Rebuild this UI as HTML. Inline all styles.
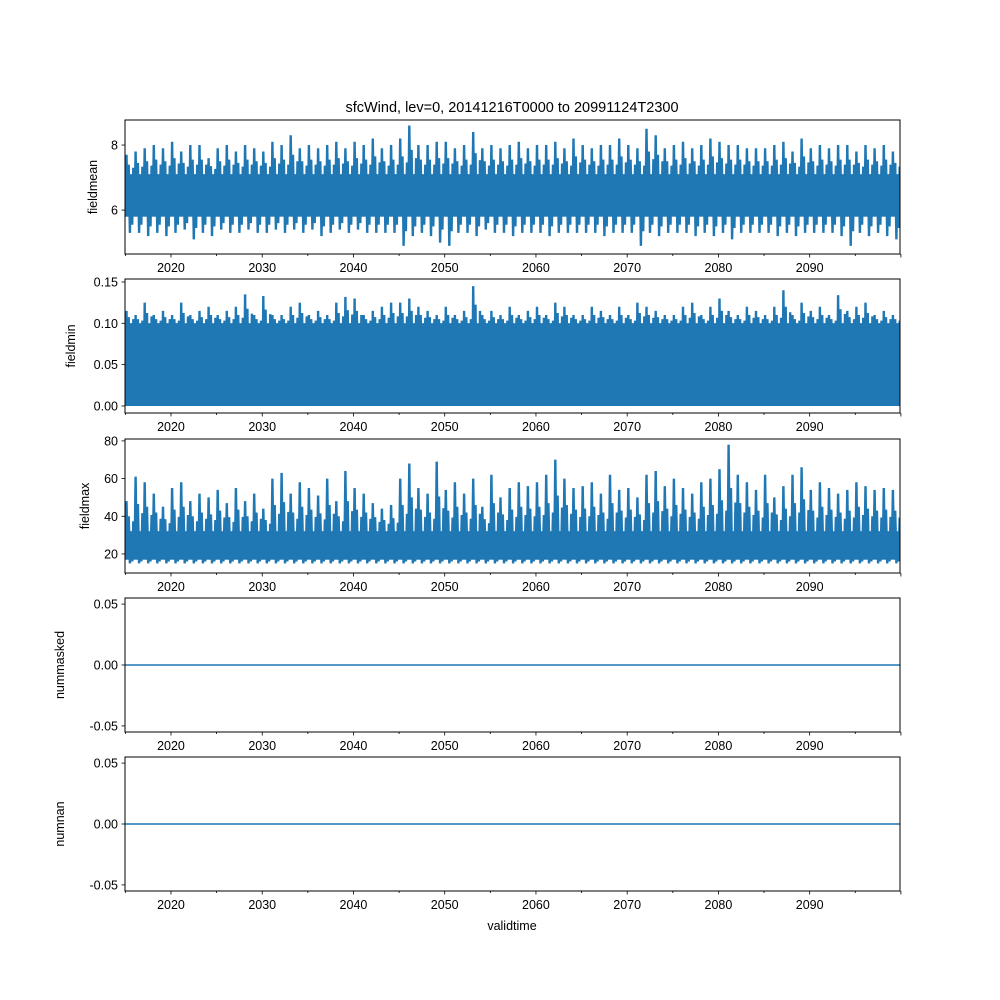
<!DOCTYPE html>
<html><head><meta charset="utf-8"><style>
body{margin:0;background:#fff}
svg{display:block;font-family:"Liberation Sans","DejaVu Sans",sans-serif}
</style></head><body>
<svg id="fig" width="1000" height="1000" viewBox="0 0 1000 1000">
<rect width="1000" height="1000" fill="#fff"/>
<text x="512" y="112" font-size="14.5" text-anchor="middle">sfcWind, lev=0, 20141216T0000 to 20991124T2300</text>
<text x="512" y="930" font-size="12.5" text-anchor="middle">validtime</text>
</svg>
<script>
const years = Array.from({length:85},(_, i)=>2015+i);
const xTickLabels = [2020,2030,2040,2050,2060,2070,2080,2090];
const meanMax = [7.7,7.8,7.9,8.0,7.9,8.1,7.8,8.0,8.0,7.6, 7.9,8.0,7.8,8.0,7.9,7.8,8.1,8.0,8.3,7.9, 8.0,7.9,8.0,8.1,7.9,8.1,8.0,8.2,7.9,8.0, 8.2,8.6,8.0,8.0,8.1,8.1,7.9,8.0,8.4,7.9, 8.0,7.9,8.0,8.1,7.9,8.0,8.0,8.1,7.9,8.2, 8.0,7.9,8.0,8.0,8.2,8.0,7.9,8.5,8.3,7.9, 8.0,8.1,7.9,8.0,8.2,8.1,8.0,8.0,7.9,7.9, 7.9,8.0,8.1,7.8,8.2,7.9,8.0,7.9,8.0,8.0, 7.8,8.0,7.9,8.0,7.8];
const meanMin = [5.3,5.3,5.2,5.3,5.2,5.3,5.4,5.1,5.3,5.2, 5.4,5.3,5.3,5.4,5.3,5.3,5.4,5.3,5.4,5.3, 5.4,5.2,5.3,5.4,5.3,5.4,5.3,5.3,5.3,5.3, 4.9,5.2,5.3,5.2,5.0,4.9,5.3,5.3,5.2,5.4, 5.3,5.3,5.2,5.3,5.3,5.3,5.2,5.3,5.3,5.3, 5.3,5.3,5.2,5.3,5.3,5.3,4.9,5.3,5.2,5.3, 5.3,5.3,5.2,5.3,5.2,5.3,5.1,5.3,5.3,5.3, 5.3,5.2,5.3,5.2,5.3,5.3,5.3,5.3,5.2,4.9, 5.3,5.2,5.3,5.2,5.1];
const minMax = [0.115,0.11,0.125,0.11,0.115,0.11,0.125,0.11,0.115,0.12, 0.11,0.115,0.12,0.135,0.11,0.133,0.11,0.11,0.12,0.125, 0.11,0.115,0.11,0.125,0.132,0.13,0.11,0.115,0.12,0.125, 0.125,0.13,0.12,0.115,0.11,0.12,0.11,0.115,0.145,0.11, 0.115,0.11,0.12,0.11,0.115,0.12,0.11,0.125,0.12,0.11, 0.11,0.12,0.115,0.11,0.12,0.11,0.125,0.12,0.115,0.11, 0.11,0.12,0.125,0.11,0.12,0.13,0.115,0.11,0.12,0.115, 0.11,0.12,0.14,0.11,0.125,0.115,0.12,0.11,0.134,0.115, 0.12,0.125,0.11,0.115,0.11];
const maxMax = [48,61,58,52,45,55,58,48,52,50, 54,47,55,48,52,44,60,63,52,58, 55,51,60,48,64,55,52,47,44,46, 60,68,55,52,69,54,58,52,60,45, 62,50,55,58,56,58,62,70,60,55, 56,58,52,62,54,55,50,62,64,56, 60,55,52,58,60,65,78,62,58,54, 62,50,56,62,66,54,58,55,52,54, 58,56,54,55,54];
const maxMin = years.map(()=>15);

const X0=125,X1=900,T0=2014.96,T1=2099.9;
function xs(t){return X0+(t-T0)/(T1-T0)*(X1-X0);}
const svg=document.getElementById('fig');
const NS='http://www.w3.org/2000/svg';
function el(tag,attrs,parent){const e=document.createElementNS(NS,tag);for(const k in attrs)e.setAttribute(k,attrs[k]);(parent||svg).appendChild(e);return e;}
const C='#1f77b4';

const panels=[
 {name:'fieldmean',top:120,bot:254,lo:4.65,hi:8.77,ticks:[6,8],fmt:v=>String(v),hiA:meanMax,loA:meanMin,coreLo:5.8,coreHi:7.1},
 {name:'fieldmin',top:279,bot:413,lo:-0.0085,hi:0.1536,ticks:[0,0.05,0.10,0.15],fmt:v=>v.toFixed(2),hiA:minMax,loA:null,coreLo:0,coreHi:0.1},
 {name:'fieldmax',top:439,bot:573,lo:9.9,hi:81,ticks:[20,40,60,80],fmt:v=>String(v),hiA:maxMax,loA:maxMin,coreLo:17,coreHi:32},
 {name:'nummasked',top:598,bot:732,lo:-0.055,hi:0.055,ticks:[-0.05,0,0.05],fmt:v=>v.toFixed(2),flat:0},
 {name:'numnan',top:757,bot:891,lo:-0.055,hi:0.055,ticks:[-0.05,0,0.05],fmt:v=>v.toFixed(2),flat:0}
];
panels.forEach(p=>{
 const g=el('g',{});
 
 
 const ys=v=>p.bot-(v-p.lo)/(p.hi-p.lo)*(p.bot-p.top);
 const clipId='clip-'+p.name;
 const cp=el('clipPath',{id:clipId},g);el('rect',{x:X0,y:p.top,width:X1-X0,height:p.bot-p.top},cp);
 const dg=el('g',{'clip-path':'url(#'+clipId+')'},g);
 if(p.flat!==undefined){
  const l=el('line',{x1:X0,x2:X1,y1:ys(p.flat),y2:ys(p.flat),stroke:C,'stroke-width':1.5},dg);
  
  
 } else {
  const band=el('rect',{x:X0,y:ys(p.coreHi),width:X1-X0,height:ys(p.coreLo)-ys(p.coreHi),fill:C},dg);
  
  
  let d='';
  years.forEach((t,i)=>{
   const hi=p.hiA[i], lo=p.loA?p.loA[i]:p.coreLo;
   const pts=[[t,p.coreLo],[t+0.12,hi],[t+0.25,p.coreLo],[t+0.37,(hi+p.coreHi)/2],[t+0.5,lo],[t+0.62,p.coreHi],[t+0.75,(lo+p.coreLo)/2],[t+0.87,(hi+p.coreHi*2)/3]];
   pts.forEach(q=>{d+=(d?'L':'M')+xs(q[0]).toFixed(1)+' '+ys(q[1]).toFixed(1);});
  });
  const path=el('path',{d:d,fill:'none',stroke:C,'stroke-width':2.4,'stroke-linejoin':'miter'},dg);
  
  
 }
 const frame=el('rect',{x:X0,y:p.top,width:X1-X0,height:p.bot-p.top,fill:'none',stroke:'#000','stroke-width':1},g);
 
 
 p.ticks.forEach(v=>{
  const y=ys(v);
  el('line',{x1:X0-3.5,x2:X0,y1:y,y2:y,stroke:'#000','stroke-width':0.8},g);
  const t=el('text',{x:X0-7,y:y+4.5,'font-size':12.5,'text-anchor':'end'},g);
  t.textContent=p.fmt(v);
  
  
 });
 for(let yr=2015;yr<=2100;yr+=5){
  const x=xs(yr);if(x<X0-1||x>X1+1)continue;
  const major=yr%10===0;
  el('line',{x1:x,x2:x,y1:p.bot,y2:p.bot+(major?3.5:2),stroke:'#000','stroke-width':0.8},g);
 }
 xTickLabels.forEach(yr=>{
  const t=el('text',{x:xs(yr),y:p.bot+18,'font-size':12.5,'text-anchor':'middle'},g);
  t.textContent=String(yr);
  
  
 });
 const yl=el('text',{x:0,y:0,'font-size':12.5,'text-anchor':'middle',transform:'translate('+(p.name==='fieldmean'?97:(p.name==='fieldmin'?75:(p.name==='fieldmax'?89:64)))+','+((p.top+p.bot)/2)+') rotate(-90)'},g);
 yl.textContent=p.name;
 
 
});
</script>
</body></html>
